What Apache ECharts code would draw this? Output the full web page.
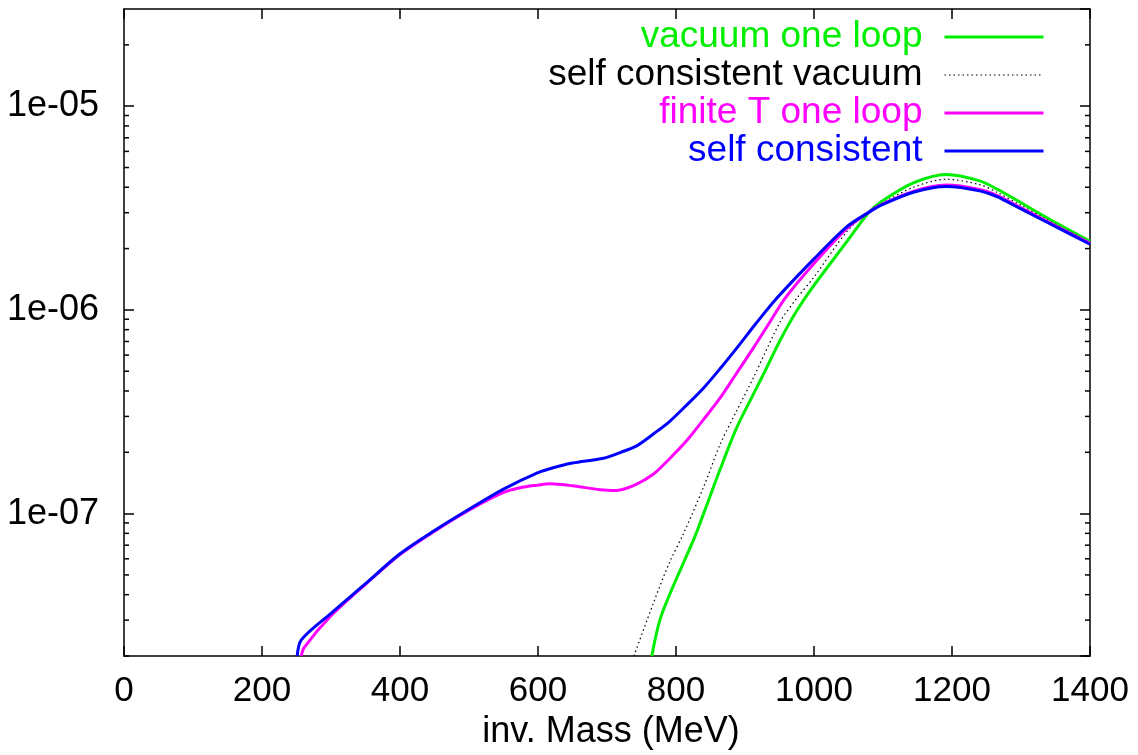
<!DOCTYPE html>
<html>
<head>
<meta charset="utf-8">
<script src="https://cdn.jsdelivr.net/npm/echarts@6/dist/echarts.min.js"></script>
<style>
  html, body { margin: 0; padding: 0; background: #fff; }
  #chart { width: 1138px; height: 755px; }
</style>
</head>
<body>
<div id="chart"></div>
<script>
// inv. mass in MeV, spectral value (log scale)
const vacuumMass = [765, 779, 828, 840, 864, 888, 912, 924, 951, 975, 1000, 1047, 1079, 1096, 1144, 1192, 1240, 1265, 1300, 1337, 1400];
const vacuumVal = [2.0e-8, 3.18e-8, 7.8e-8, 1.0e-7, 1.65e-7, 2.64e-7, 3.85e-7, 4.63e-7, 7.1e-7, 9.9e-7, 1.32e-6, 2.15e-6, 3.0e-6, 3.37e-6, 4.2e-6, 4.62e-6, 4.3e-6, 3.92e-6, 3.36e-6, 2.84e-6, 2.17e-6];

const scVacuumMass = [739, 767, 790, 811, 840, 864, 888, 912, 951, 975, 1000, 1047, 1079, 1096, 1144, 1192, 1240, 1265, 1300, 1337, 1400];
const scVacuumVal = [2.0e-8, 3.62e-8, 5.7e-8, 8.0e-8, 1.35e-7, 2.19e-7, 3.2e-7, 4.63e-7, 8.75e-7, 1.14e-6, 1.45e-6, 2.41e-6, 3.05e-6, 3.3e-6, 4.0e-6, 4.38e-6, 4.12e-6, 3.78e-6, 3.26e-6, 2.78e-6, 2.14e-6];

const finiteTMass = [257, 261, 300, 350, 400, 450, 500, 550, 574, 600, 617, 650, 690, 714, 740, 767, 790, 815, 840, 864, 888, 912, 935, 958, 1000, 1047, 1079, 1096, 1144, 1192, 1240, 1265, 1300, 1337, 1400];
const finiteTVal = [2.0e-8, 2.2e-8, 3.15e-8, 4.5e-8, 6.3e-8, 8.2e-8, 1.04e-7, 1.27e-7, 1.34e-7, 1.38e-7, 1.4e-7, 1.37e-7, 1.31e-7, 1.3e-7, 1.38e-7, 1.56e-7, 1.85e-7, 2.27e-7, 2.9e-7, 3.7e-7, 4.9e-7, 6.49e-7, 8.6e-7, 1.14e-6, 1.69e-6, 2.5e-6, 3.01e-6, 3.27e-6, 3.82e-6, 4.1e-6, 3.9e-6, 3.65e-6, 3.17e-6, 2.73e-6, 2.12e-6];

const selfConsMass = [251, 257, 300, 350, 400, 450, 500, 550, 600, 622, 650, 695, 720, 743, 770, 791, 815, 840, 865, 888, 915, 946, 1000, 1047, 1079, 1096, 1144, 1192, 1240, 1265, 1300, 1337, 1400];
const selfConsVal = [2.0e-8, 2.4e-8, 3.24e-8, 4.53e-8, 6.35e-8, 8.26e-8, 1.05e-7, 1.32e-7, 1.59e-7, 1.68e-7, 1.77e-7, 1.87e-7, 2.0e-7, 2.15e-7, 2.5e-7, 2.84e-7, 3.4e-7, 4.14e-7, 5.2e-7, 6.49e-7, 8.5e-7, 1.14e-6, 1.78e-6, 2.55e-6, 3.01e-6, 3.25e-6, 3.78e-6, 4.03e-6, 3.84e-6, 3.6e-6, 3.13e-6, 2.7e-6, 2.1e-6];

const seriesNames = ['vacuum one loop', 'self consistent vacuum', 'finite T one loop', 'self consistent'];
const seriesColors = ['#00ee00', '#000000', '#ff00ff', '#0000ff'];

const xMin = 0, xMax = 1400, xStep = 200;
const yMin = 2e-8, yMax = 3e-5;
// log minor ticks (2..9 of each decade)
const minorTicks = [2e-8, 3e-8, 4e-8, 5e-8, 6e-8, 7e-8, 8e-8, 9e-8,
  2e-7, 3e-7, 4e-7, 5e-7, 6e-7, 7e-7, 8e-7, 9e-7,
  2e-6, 3e-6, 4e-6, 5e-6, 6e-6, 7e-6, 8e-6, 9e-6, 2e-5];

const font = 'Liberation Sans, Arial, sans-serif';
const fontSize = 35;

function zip(xs, ys) {
  return xs.map((x, i) => [x, ys[i]]);
}

function expLabel(v) {
  const e = Math.log10(v);
  if (Math.abs(e - Math.round(e)) > 1e-6) return '';
  const n = Math.round(e);
  return '1e' + (n < 0 ? '-' : '+') + String(Math.abs(n)).padStart(2, '0');
}

const chart = echarts.init(document.getElementById('chart'));

const styles = [
  { width: 3, type: 'solid' },
  { width: 1.2, type: [1.5, 3] },
  { width: 3, type: 'solid' },
  { width: 3, type: 'solid' },
];

const lineSeries = [
  zip(vacuumMass, vacuumVal),
  zip(scVacuumMass, scVacuumVal),
  zip(finiteTMass, finiteTVal),
  zip(selfConsMass, selfConsVal),
].map((d, i) => ({
  name: seriesNames[i],
  type: 'line',
  data: d,
  symbol: 'none',
  smooth: 0.3,
  clip: true,
  lineStyle: { color: seriesColors[i], width: styles[i].width, type: styles[i].type },
  itemStyle: { color: seriesColors[i] },
  emphasis: { disabled: true },
  z: 3 + i,
}));

const axisLine = { show: true, onZero: false, lineStyle: { color: '#000', width: 1.5 } };
const axisTick = { show: true, inside: true, length: 10, lineStyle: { color: '#000', width: 1.5 } };

const option = {
  animation: false,
  backgroundColor: '#fff',
  textStyle: { fontFamily: font },
  grid: { left: 124, right: 48, top: 9, bottom: 97 },
  legend: {
    orient: 'vertical',
    align: 'right',
    right: 88,
    top: 13,
    itemWidth: 99,
    itemHeight: 14,
    itemGap: 0,
    selectedMode: false,
    itemStyle: { opacity: 0, borderWidth: 0 },
    data: seriesNames.map((n, i) => ({
      name: n,
      lineStyle: { color: seriesColors[i], width: styles[i].width, type: styles[i].type },
      textStyle: { color: seriesColors[i], fontSize: 37, lineHeight: 38, fontFamily: font, padding: [0, 17, 0, 0] },
    })),
  },
  xAxis: [
    {
      type: 'value', min: xMin, max: xMax, interval: xStep,
      name: 'inv. Mass (MeV)', nameLocation: 'middle', nameGap: 58,
      nameTextStyle: { fontSize: 36, color: '#000', fontFamily: font, padding: [0, 0, 0, 8] },
      axisLine: axisLine,
      axisTick: axisTick,
      axisLabel: { fontSize: fontSize, color: '#000', margin: 18, fontFamily: font, formatter: v => String(v) },
      splitLine: { show: false },
    },
    {
      type: 'value', min: xMin, max: xMax, interval: xStep, position: 'top',
      axisLine: axisLine,
      axisTick: axisTick,
      axisLabel: { show: false },
      splitLine: { show: false },
    },
  ],
  yAxis: [
    {
      type: 'log', logBase: 10, min: yMin, max: yMax,
      axisLine: axisLine,
      axisTick: axisTick,
      axisLabel: { fontSize: 36, color: '#000', margin: 25, fontFamily: font, formatter: expLabel, showMinLabel: false, showMaxLabel: false },
      splitLine: { show: false },
    },
    {
      type: 'log', logBase: 10, min: yMin, max: yMax, position: 'right',
      axisLine: axisLine,
      axisTick: axisTick,
      axisLabel: { show: false },
      splitLine: { show: false },
    },
  ],
  series: [
    ...lineSeries,
    {
      type: 'custom',
      name: 'minor ticks',
      silent: true,
      clip: false,
      data: minorTicks.map(v => [xMin, v]),
      renderItem: function (params, api) {
        const v = api.value(1);
        const l = api.coord([xMin, v]);
        const r = api.coord([xMax, v]);
        const st = { stroke: '#000', lineWidth: 1.5 };
        return {
          type: 'group',
          children: [
            { type: 'line', shape: { x1: l[0], y1: l[1], x2: l[0] + 5, y2: l[1] }, style: st },
            { type: 'line', shape: { x1: r[0], y1: r[1], x2: r[0] - 5, y2: r[1] }, style: st },
          ],
        };
      },
      z: 10,
    },
  ],
};

chart.setOption(option);
</script>
</body>
</html>
